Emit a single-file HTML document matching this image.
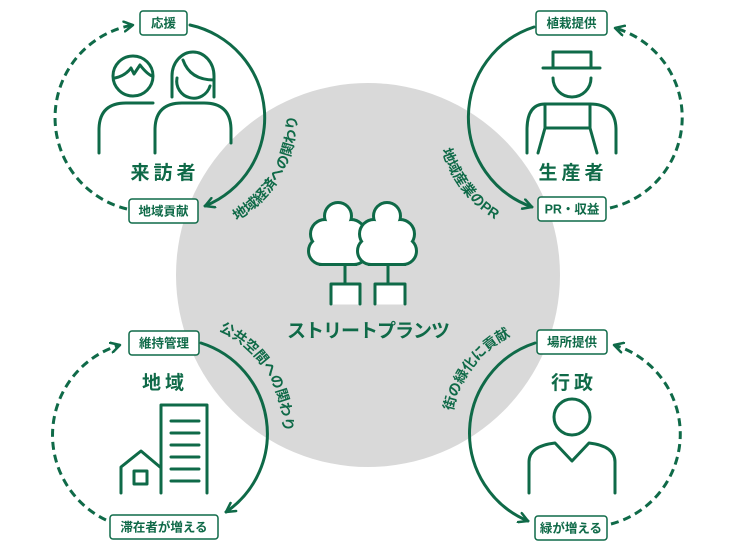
<!DOCTYPE html>
<html><head><meta charset="utf-8"><style>
html,body{margin:0;padding:0;background:#fff;}
svg{display:block;font-family:"Liberation Sans","Noto Sans CJK JP",sans-serif;}
.g{stroke:#0f6a48;stroke-width:3;fill:none;stroke-linecap:round;stroke-linejoin:round;}
.d{stroke:#0f6a48;stroke-width:3;fill:none;stroke-dasharray:8 5;}
.box{fill:#fff;stroke:#0f6a48;stroke-width:1.5;}
.bt{fill:#0f6a48;font-size:12.5px;font-weight:bold;text-anchor:middle;}
.big{fill:#0f6a48;font-size:19px;font-weight:bold;text-anchor:middle;letter-spacing:4px;}
.at{fill:#0f6a48;font-size:14px;font-weight:bold;}
</style></head><body>
<svg width="736" height="552" viewBox="0 0 736 552">
<defs>
<marker id="ar" viewBox="0 0 12 12" refX="10" refY="6" markerWidth="12" markerHeight="12" markerUnits="userSpaceOnUse" orient="auto">
<path d="M1,1 L10,6 L1,11" fill="none" stroke="#0f6a48" stroke-width="2.5" stroke-linecap="round" stroke-linejoin="round"/>
</marker>
<path id="p1" d="M217.4,229.7 A121,121 0 0 0 295.2,95"/>
<path id="p2" d="M437.5,126.5 A121,121 0 0 0 516.6,229.7"/>
<path id="p3" d="M202.2,324.7 A109,109 0 0 1 281.3,448.9"/>
<path id="p4" d="M451.4,422.7 A107,107 0 0 1 521.4,331.5"/>
<g id="tshape">
<circle cx="0" cy="0" r="12"/><circle cx="-13" cy="18" r="13"/><circle cx="13" cy="18" r="13"/><circle cx="-16" cy="35" r="12"/><circle cx="16" cy="35" r="12"/><rect x="-16" y="29" width="32" height="18"/><rect x="-10" y="6" width="20" height="28"/>
</g>
</defs>
<circle cx="368" cy="275" r="192" fill="#d9d9d9"/>

<!-- trees -->
<use href="#tshape" x="338" y="216" fill="#0f6a48" stroke="#0f6a48" stroke-width="6"/>
<use href="#tshape" x="338" y="216" fill="#fff"/>
<use href="#tshape" x="387" y="216" fill="#0f6a48" stroke="#0f6a48" stroke-width="6"/>
<use href="#tshape" x="387" y="216" fill="#fff"/>
<path class="g" d="M345,266 V284 M331,304 V284 H360 V304 M388,266 V284 M375,304 V284 H405 V304"/>
<rect x="332.5" y="285.5" width="26" height="19" fill="#fff"/>
<rect x="376.5" y="285.5" width="27" height="19" fill="#fff"/>
<text x="368" y="337" fill="#0f6a48" font-size="19" font-weight="bold" text-anchor="middle" letter-spacing="-1">ストリートプランツ</text>

<!-- TL visitors -->
<path class="g" d="M190,25 A95,95 0 0 1 205,206" marker-end="url(#ar)"/>
<path class="d" d="M127,209 A94,94 0 0 1 133,25" marker-end="url(#ar)"/>
<rect class="box" x="140" y="11" width="47" height="24" rx="3"/><text class="bt" x="163.5" y="27.5">応援</text>
<rect class="box" x="129" y="199" width="69" height="24" rx="3"/><text class="bt" x="163.5" y="215.5">地域貢献</text>
<circle class="g" cx="133" cy="76" r="20"/>
<path class="g" d="M115,78 Q125,76 131,68 L134,74 L140,65 Q147,74 152,76"/>
<path class="g" d="M99,153 V130 Q99,103 126,103 H153"/>
<path class="g" d="M172,97 V76 A21,24 0 0 1 214,76 V97"/>
<path class="g" d="M183,60 Q190,80 214,80"/>
<path class="g" d="M177,78 A17,17 0 0 0 210,86"/>
<path class="g" d="M155,153 V130 Q155,103 182,103 H204 Q231,103 231,130 V143"/>
<text class="big" x="165" y="179">来訪者</text>
<text class="at"><textPath href="#p1" startOffset="50%" text-anchor="middle">地域経済への関わり</textPath></text>

<!-- TR producer -->
<path class="g" d="M534,27 A95,95 0 0 0 532,207" marker-end="url(#ar)"/>
<path class="d" d="M610,208 A93,93 0 0 0 615,28" marker-end="url(#ar)"/>
<rect class="box" x="536" y="11" width="71" height="24" rx="3"/><text class="bt" x="571.5" y="27.5">植栽提供</text>
<rect class="box" x="538" y="197" width="68" height="24" rx="3"/><text class="bt" x="572" y="213.5">PR・収益</text>
<path class="g" d="M553,68 V52 H591 V68 M543,68 H600"/>
<path class="g" d="M553,78 A19,19 0 0 0 591,78"/>
<path class="g" d="M527,153 V130 Q527,104 545,104 H590 Q616,104 616,130 V153"/>
<path class="g" d="M545,104 V128 H590 V104 M545,128 L538,153 M590,128 L597,153"/>
<text class="big" x="573" y="179">生産者</text>
<text class="at"><textPath href="#p2" startOffset="50%" text-anchor="middle">地域産業のPR</textPath></text>

<!-- BL region -->
<path class="g" d="M201,343 A95,95 0 0 1 226,512" marker-end="url(#ar)"/>
<path class="d" d="M106,520 A94,94 0 0 1 120,345" marker-end="url(#ar)"/>
<rect class="box" x="129" y="331" width="70" height="24" rx="3"/><text class="bt" x="164" y="347.5">維持管理</text>
<rect class="box" x="110" y="515" width="108" height="24" rx="3"/><text class="bt" x="164" y="531.5">滞在者が増える</text>
<text class="big" x="165" y="389">地域</text>
<path class="g" d="M161,493 V405 H207 V493"/>
<path class="g" d="M171,421 H199 M171,433 H199 M171,445 H199 M171,457 H199 M171,469 H199 M171,481 H199"/>
<path class="g" d="M121,493 V467 L141,451 L160,467"/>
<rect class="g" x="134" y="471" width="13" height="13"/>
<text class="at"><textPath href="#p3" startOffset="50%" text-anchor="middle">公共空間への関わり</textPath></text>

<!-- BR admin -->
<path class="g" d="M535,343 A95,95 0 0 0 528,521" marker-end="url(#ar)"/>
<path class="d" d="M611,524 A93,93 0 0 0 614,345" marker-end="url(#ar)"/>
<rect class="box" x="537" y="330" width="70" height="24" rx="3"/><text class="bt" x="572" y="346.5">場所提供</text>
<rect class="box" x="535" y="516" width="72" height="24" rx="3"/><text class="bt" x="571" y="532.5">緑が増える</text>
<text class="big" x="574" y="389">行政</text>
<circle class="g" cx="572" cy="417" r="18"/>
<path class="g" d="M529,493 V462 Q529,446 555,443 L572,461 L589,443 Q615,446 615,462 V493"/>
<text class="at"><textPath href="#p4" startOffset="50%" text-anchor="middle">街の緑化に貢献</textPath></text>
</svg>
</body></html>
